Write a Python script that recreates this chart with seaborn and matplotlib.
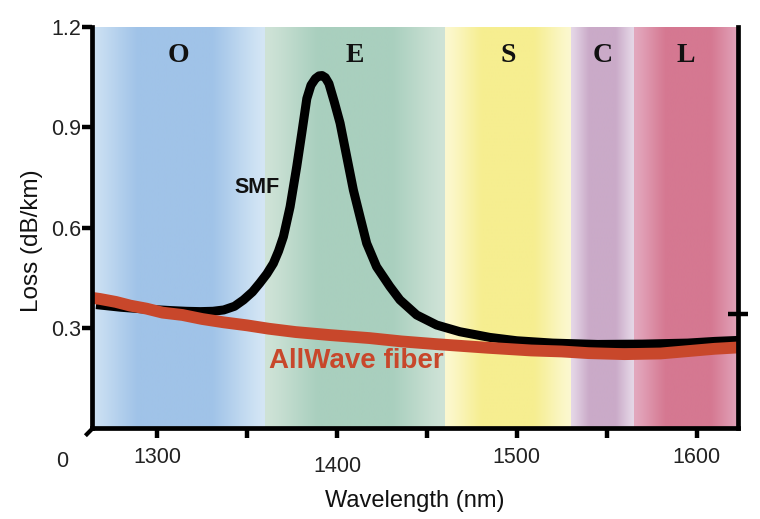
import numpy as np
import pandas as pd
import matplotlib
matplotlib.use("Agg")
import matplotlib.pyplot as plt
import matplotlib.transforms as mtransforms
from matplotlib.colors import to_rgb
import seaborn as sns

# ---------------- data ----------------
band_names = ["O", "E", "S", "C", "L"]
band_start = [1260, 1360, 1460, 1530, 1565]
band_end = [1360, 1460, 1530, 1565, 1625]

smf_wavelength = [1266, 1280, 1295, 1308, 1316, 1324, 1331, 1337, 1343, 1348, 1353,
                  1357, 1361, 1364.6, 1367.5, 1370.2, 1373.9, 1377.6, 1380.4, 1383.2,
                  1385.5, 1388, 1390, 1391.7, 1393.5, 1395.5, 1398.5, 1401.7, 1405.4,
                  1409.1, 1412.8, 1416.5, 1422, 1429.4, 1435, 1444.3, 1455.4, 1468.3,
                  1485, 1500, 1520, 1545, 1570, 1595, 1610, 1623]
smf_loss = [0.370, 0.362, 0.356, 0.352, 0.350, 0.349, 0.350, 0.354, 0.365, 0.384, 0.408,
            0.434, 0.462, 0.493, 0.530, 0.573, 0.662, 0.782, 0.882, 0.985,
            1.025, 1.045, 1.053, 1.054, 1.048, 1.030, 0.975, 0.912, 0.812,
            0.712, 0.632, 0.553, 0.483, 0.424, 0.384, 0.339, 0.309, 0.289,
            0.272, 0.262, 0.255, 0.251, 0.252, 0.255, 0.260, 0.263]

allwave_wavelength = [1264, 1268, 1277, 1285, 1294, 1303, 1314, 1325, 1337, 1350, 1362,
                      1377, 1396, 1418, 1436, 1455, 1484, 1508, 1525, 1540, 1560,
                      1580, 1595, 1610, 1623]
allwave_loss = [0.390, 0.387, 0.378, 0.367, 0.358, 0.346, 0.339, 0.327, 0.317, 0.308, 0.298,
                0.288, 0.279, 0.270, 0.260, 0.252, 0.241, 0.233, 0.230, 0.225, 0.222,
                0.224, 0.231, 0.238, 0.242]

x_ticks = [1300, 1350, 1400, 1450, 1500, 1550, 1600]
x_tick_labels = ["1300", "", "1400", "", "1500", "", "1600"]
y_ticks = [0.3, 0.6, 0.9, 1.2]
y_tick_labels = ["0.3", "0.6", "0.9", "1.2"]

# ---------------- style ----------------
band_edge_colors = ["#d4e6f5", "#cfe3d7", "#fcf8d0", "#e5d7e7", "#e3a8be"]
band_center_colors = ["#a0c3e8", "#a9cfbe", "#f6ee90", "#caaac8", "#d57891"]
red = "#c8472b"

sns.set_theme(style="ticks")
plt.rcParams["font.family"] = ["Liberation Sans", "DejaVu Sans"]

fig = plt.figure(figsize=(7.6, 5.19), dpi=100)
ax = fig.add_axes([0.1217, 0.1744, 0.8493, 0.7742])

XMIN, XMAX = 1264, 1623
YMIN, YMAX = 0.0, 1.2

# gradient band backgrounds
t = np.linspace(0, 1, 256)
prof = np.clip(1.25 * np.sin(np.pi * t), 0, 1) ** 1.3
for name, s, e, ce, cc in zip(band_names, band_start, band_end, band_edge_colors, band_center_colors):
    c0 = np.array(to_rgb(ce))
    c1 = np.array(to_rgb(cc))
    img = c0[None, :] + (c1 - c0)[None, :] * prof[:, None]
    ax.imshow(img[None, :, :], extent=[s, e, YMIN, YMAX], aspect="auto",
              interpolation="bilinear", zorder=0)
    ax.text((max(s, XMIN) + min(e, XMAX)) / 2, 1.115, name, ha="center", va="center",
            fontsize=20, fontweight="bold", family=["Liberation Serif"], color="#111111",
            zorder=5)

df_smf = pd.DataFrame({"wl": smf_wavelength, "loss": smf_loss})
df_aw = pd.DataFrame({"wl": allwave_wavelength, "loss": allwave_loss})
sns.lineplot(data=df_smf, x="wl", y="loss", color="black", linewidth=6.5, ax=ax,
             sort=False, estimator=None, zorder=3)
sns.lineplot(data=df_aw, x="wl", y="loss", color=red, linewidth=8.5, ax=ax,
             sort=False, estimator=None, zorder=4)
for ln in ax.lines:
    ln.set_solid_capstyle("butt")
    ln.set_solid_joinstyle("round")

ax.text(1355.6, 0.721, "SMF", ha="center", va="center", fontsize=15.5,
        fontweight="bold", color="#111111", zorder=6)
ax.text(1410.6, 0.202, "AllWave fiber", ha="center", va="center", fontsize=20,
        fontweight="bold", color=red, zorder=6)

ax.set_xlim(XMIN, XMAX)
ax.set_ylim(YMIN, YMAX)
ax.set_xticks(x_ticks)
ax.set_xticklabels(x_tick_labels)
ax.set_yticks(y_ticks)
ax.set_yticklabels(y_tick_labels)
ax.set_xlabel("Wavelength (nm)", fontsize=17, labelpad=9, color="#111111")
ax.set_ylabel("Loss (dB/km)", fontsize=17.5, color="#111111")
ax.yaxis.set_label_coords(-0.076, 0.467)

ax.spines["top"].set_visible(False)
for sp in ["left", "bottom", "right"]:
    ax.spines[sp].set_visible(True)
    ax.spines[sp].set_linewidth(3.4)
    ax.spines[sp].set_color("black")
    ax.spines[sp].set_zorder(7)
ax.tick_params(axis="both", which="major", direction="out", length=7, width=3.2,
               color="black", labelsize=15.5, labelcolor="#222222")
ax.tick_params(axis="x", pad=6)
ax.tick_params(axis="y", pad=1)
ax.xaxis.get_major_ticks()[2].set_pad(13)
ax.grid(False)

# small tick crossing the right spine
ax.plot([1.0], [0.342], marker="_", markersize=14, mew=3.2, color="black",
        transform=mtransforms.blended_transform_factory(ax.transAxes, ax.transData),
        clip_on=False, zorder=8)
# diagonal stub at origin and "0" label
ax.plot([0.0, -0.011], [0.0, -0.018], color="black", lw=3, transform=ax.transAxes,
        clip_on=False, zorder=8, solid_capstyle="butt")
ax.text(-0.047, -0.081, "0", ha="center", va="center", fontsize=15.5, color="#222222",
        transform=ax.transAxes)

fig.savefig("out.png", dpi=100)
